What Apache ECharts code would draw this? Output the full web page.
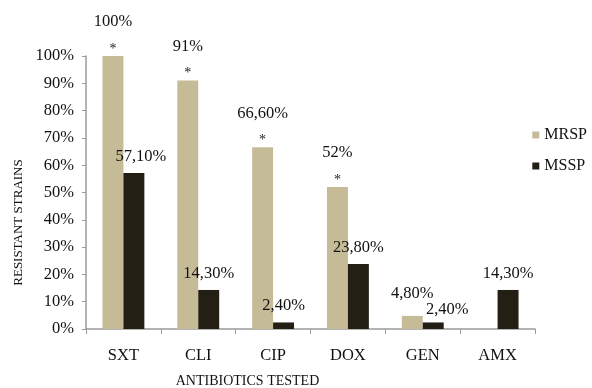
<!DOCTYPE html>
<html>
<head>
<meta charset="utf-8">
<script src="https://cdn.jsdelivr.net/npm/echarts@6/dist/echarts.min.js"></script>
<style>
  html, body { margin: 0; padding: 0; background: #fff; }
  #chart { width: 592px; height: 388px; }
</style>
</head>
<body>
<div id="chart"></div>
<script>
const categories = ['SXT', 'CLI', 'CIP', 'DOX', 'GEN', 'AMX'];
const mrspValues = [100, 91, 66.6, 52, 4.8, 0];
const msspValues = [57.1, 14.3, 2.4, 23.8, 2.4, 14.3];
const significant = [true, true, true, true, false, false];

const serif = 'Liberation Serif';

function pct(v) {
  if (Number.isInteger(v)) return v + '%';
  return v.toFixed(2).replace('.', ',') + '%';
}

const chart = echarts.init(document.getElementById('chart'));

const mrspData = mrspValues.map(function (v, i) {
  if (!v) return { value: v, label: { show: false } };
  if (significant[i]) {
    return {
      value: v,
      label: {
        formatter: '{v|' + pct(v) + '}\n{s|*}'
      }
    };
  }
  return { value: v, label: { formatter: '{v|' + pct(v) + '}', distance: 2 } };
});

const msspData = msspValues.map(function (v, i) {
  const item = { value: v };
  if (i === 0) item.label = { offset: [7, 0] };
  if (i === 4) item.label = { offset: [14, 4] };
  return item;
});

chart.setOption({
  animation: false,
  color: ['#c5bc97', '#231f15'],
  grid: { left: 86, right: 57, top: 56, bottom: 59, outerBoundsMode: 'none' },
  legend: {
    orient: 'vertical',
    right: 0,
    top: 122,
    itemWidth: 7,
    itemHeight: 7,
    itemGap: 15,
    icon: 'rect',
    textStyle: { fontFamily: serif, fontSize: 16, color: '#111' },
    data: ['MRSP', 'MSSP']
  },
  xAxis: {
    type: 'category',
    data: categories,
    name: 'ANTIBIOTICS TESTED',
    nameLocation: 'middle',
    nameGap: 45,
    nameTextStyle: {
      fontFamily: serif, fontSize: 14, color: '#111',
      verticalAlign: 'top', padding: [0, 126, 0, 0]
    },
    axisLine: { lineStyle: { color: '#9a9a9a', width: 1.5 } },
    axisTick: { show: true, length: 5, lineStyle: { color: '#9a9a9a' } },
    axisLabel: { fontFamily: serif, fontSize: 16.5, color: '#111', margin: 18 }
  },
  yAxis: {
    type: 'value',
    min: 0,
    max: 100,
    interval: 10,
    name: 'RESISTANT STRAINS',
    nameLocation: 'middle',
    nameGap: 60,
    nameTextStyle: {
      fontFamily: 'Liberation Sans Narrow', fontSize: 13, color: '#111',
      padding: [0, 60, 0, 0]
    },
    axisLine: { show: true, lineStyle: { color: '#9a9a9a', width: 1.5 } },
    axisTick: { show: true, length: 4, lineStyle: { color: '#9a9a9a' } },
    splitLine: { show: false },
    axisLabel: {
      fontFamily: serif, fontSize: 16.5, color: '#111', margin: 12,
      formatter: '{value}%'
    }
  },
  series: [
    {
      name: 'MRSP',
      type: 'bar',
      barGap: '0%',
      barCategoryGap: '44%',
      data: mrspData,
      label: {
        show: true,
        position: 'top',
        distance: 0,
        fontFamily: serif,
        color: '#111',
        rich: {
          v: { fontFamily: serif, fontSize: 16.5, color: '#111', lineHeight: 40 },
          s: { fontFamily: serif, fontSize: 14, color: '#222', lineHeight: 14 }
        }
      }
    },
    {
      name: 'MSSP',
      type: 'bar',
      data: msspData,
      label: {
        show: true,
        position: 'top',
        distance: 8,
        fontFamily: serif,
        fontSize: 16.5,
        color: '#111',
        formatter: function (p) { return pct(p.value); }
      }
    }
  ]
});
</script>
</body>
</html>
